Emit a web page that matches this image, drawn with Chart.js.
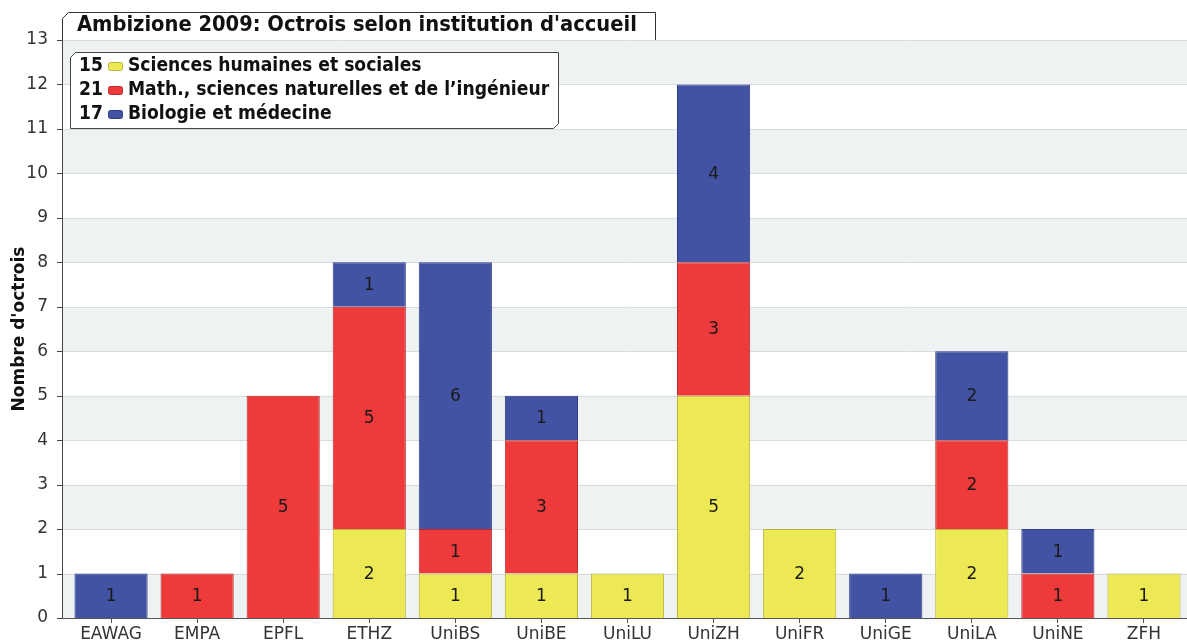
<!DOCTYPE html>
<html>
<head>
<meta charset="utf-8">
<script src="https://cdn.jsdelivr.net/npm/chart.js@4.4.1/dist/chart.umd.min.js"></script>
<style>
  html, body { margin: 0; padding: 0; background: #fff; }
  #wrap { width: 1187px; height: 642px; position: relative; }
</style>
</head>
<body>
<div id="wrap"><canvas id="chart" width="1187" height="642"></canvas></div>
<script>
const institutions = ['EAWAG', 'EMPA', 'EPFL', 'ETHZ', 'UniBS', 'UniBE', 'UniLU', 'UniZH', 'UniFR', 'UniGE', 'UniLA', 'UniNE', 'ZFH'];
const sciencesHumaines = [0, 0, 0, 2, 1, 1, 1, 5, 2, 0, 2, 0, 1];
const mathSciences = [0, 1, 5, 5, 1, 3, 0, 3, 0, 0, 2, 1, 0];
const biologie = [1, 0, 0, 1, 6, 1, 0, 4, 0, 1, 2, 1, 0];
const seriesNames = ['Sciences humaines et sociales', 'Math., sciences naturelles et de l\u2019ingénieur', 'Biologie et médecine'];
const chartTitle = "Ambizione 2009: Octrois selon institution d'accueil";
const yTitle = "Nombre d'octrois";

const somme = arr => arr.reduce((a, b) => a + b, 0);
const AXE_X = 62; // l'axe vertical est un peu à gauche de la première catégorie

// bandes grises alternées derrière les barres + axe vertical
const bandes = {
  id: 'bandes',
  beforeDatasetsDraw(chart) {
    const { ctx, chartArea, scales: { y } } = chart;
    ctx.save();
    ctx.fillStyle = '#eff2f3';
    for (let v = 0; v < 13; v += 2) {
      const top = y.getPixelForValue(v + 1);
      const bot = y.getPixelForValue(v);
      ctx.fillRect(AXE_X, top, chartArea.right - AXE_X, bot - top);
    }
    ctx.strokeStyle = '#d9dcdd';
    ctx.lineWidth = 1;
    for (let v = 1; v <= 13; v++) {
      const py = Math.round(y.getPixelForValue(v)) + 0.5;
      ctx.beginPath();
      ctx.moveTo(AXE_X, py);
      ctx.lineTo(chartArea.right, py);
      ctx.stroke();
    }
    // axe y et ses graduations
    ctx.strokeStyle = '#444';
    ctx.beginPath();
    ctx.moveTo(AXE_X + 0.5, chartArea.top);
    ctx.lineTo(AXE_X + 0.5, chartArea.bottom);
    for (let v = 0; v <= 13; v++) {
      const py = Math.round(y.getPixelForValue(v)) + 0.5;
      ctx.moveTo(AXE_X - 5, py);
      ctx.lineTo(AXE_X, py);
    }
    ctx.stroke();
    // prolonger l'axe x jusqu'à l'axe y
    ctx.strokeStyle = '#555';
    ctx.beginPath();
    const by = Math.round(chartArea.bottom) + 0.5;
    ctx.moveTo(AXE_X, by);
    ctx.lineTo(chartArea.left, by);
    ctx.stroke();
    ctx.restore();
  }
};

// valeurs au milieu de chaque segment
const valeurs = {
  id: 'valeurs',
  afterDatasetsDraw(chart) {
    const ctx = chart.ctx;
    ctx.save();
    ctx.font = '17px "DejaVu Sans"';
    ctx.fillStyle = '#1a1a1a';
    ctx.textAlign = 'center';
    ctx.textBaseline = 'middle';
    chart.data.datasets.forEach((ds, i) => {
      chart.getDatasetMeta(i).data.forEach((bar, j) => {
        const v = ds.data[j];
        if (!v) return;
        ctx.fillText(String(v), bar.x, (bar.y + bar.base) / 2 + 1);
      });
    });
    ctx.restore();
  }
};

// titre et légende dans des cadres à coin coupé
const cadres = {
  id: 'cadres',
  afterDraw(chart) {
    const ctx = chart.ctx;
    ctx.save();
    // cadre du titre
    ctx.fillStyle = '#fff';
    ctx.strokeStyle = '#333';
    ctx.lineWidth = 1;
    ctx.beginPath();
    ctx.moveTo(62.5, 40);
    ctx.lineTo(62.5, 18.5);
    ctx.lineTo(68.5, 12.5);
    ctx.lineTo(655.5, 12.5);
    ctx.lineTo(655.5, 40);
    ctx.fill();
    ctx.stroke();
    ctx.fillStyle = '#111';
    ctx.font = 'bold 20px "DejaVu Sans Condensed"';
    ctx.textBaseline = 'middle';
    ctx.textAlign = 'left';
    let w = ctx.measureText(chartTitle).width;
    const tSize = 20 * 561 / w;
    ctx.font = 'bold ' + tSize.toFixed(1) + 'px "DejaVu Sans Condensed"';
    ctx.fillText(chartTitle, 77, 25);

    // cadre de la légende
    ctx.fillStyle = '#fff';
    ctx.strokeStyle = '#444';
    ctx.beginPath();
    ctx.moveTo(70.5, 128.5);
    ctx.lineTo(70.5, 57.5);
    ctx.lineTo(75.5, 52.5);
    ctx.lineTo(558.5, 52.5);
    ctx.lineTo(558.5, 123.5);
    ctx.lineTo(553.5, 128.5);
    ctx.closePath();
    ctx.fill();
    ctx.stroke();

    ctx.font = 'bold 17px "DejaVu Sans Condensed"';
    w = ctx.measureText(seriesNames[1]).width;
    const lSize = 17 * 421 / w;
    ctx.font = 'bold ' + lSize.toFixed(1) + 'px "DejaVu Sans Condensed"';
    chart.data.datasets.forEach((ds, i) => {
      const cy = 66 + i * 24;
      ctx.fillStyle = '#111';
      ctx.textAlign = 'left';
      ctx.fillText(String(somme(ds.data)), 79, cy);
      ctx.fillStyle = ds.backgroundColor;
      ctx.strokeStyle = ds.borderColor;
      ctx.beginPath();
      ctx.roundRect(108.5, cy - 3.5, 14, 8, 2);
      ctx.fill();
      ctx.stroke();
      ctx.fillStyle = '#111';
      ctx.fillText(seriesNames[i], 128, cy);
    });
    ctx.restore();
  }
};

const data = {
  labels: institutions,
  datasets: [
    { label: seriesNames[0], data: sciencesHumaines, backgroundColor: '#ece954', borderColor: '#b8b540', borderWidth: 1 },
    { label: seriesNames[1], data: mathSciences, backgroundColor: '#ee3a3a', borderColor: '#b82a2a', borderWidth: 1 },
    { label: seriesNames[2], data: biologie, backgroundColor: '#4353a3', borderColor: '#2e3b85', borderWidth: 1 }
  ]
};

const config = {
  type: 'bar',
  data: data,
  options: {
    responsive: false,
    animation: false,
    layout: { padding: { top: 40, right: 0, bottom: 0, left: 9 } },
    datasets: { bar: { categoryPercentage: 1, barPercentage: 0.85 } },
    plugins: { legend: { display: false }, title: { display: false }, tooltip: { enabled: false } },
    scales: {
      x: {
        stacked: true,
        afterFit(scale) { scale.height = 24; },
        grid: { display: true, drawOnChartArea: false, offset: false, tickLength: 5, color: '#555' },
        border: { color: '#555', width: 1 },
        ticks: { color: '#333', font: { family: 'DejaVu Sans', size: 17 }, padding: 1, maxRotation: 0 }
      },
      y: {
        stacked: true,
        min: 0,
        max: 13,
        afterFit(scale) { scale.width = 59; },
        grid: { display: false, drawOnChartArea: false },
        border: { display: false },
        ticks: { stepSize: 1, color: '#333', font: { family: 'DejaVu Sans', size: 17 }, padding: 12 },
        title: { display: true, text: yTitle, color: '#111', font: { family: 'DejaVu Sans', size: 17, weight: 'bold' }, padding: 0 }
      }
    }
  },
  plugins: [bandes, valeurs, cadres]
};

const chart = new Chart(document.getElementById('chart'), config);
</script>
</body>
</html>
